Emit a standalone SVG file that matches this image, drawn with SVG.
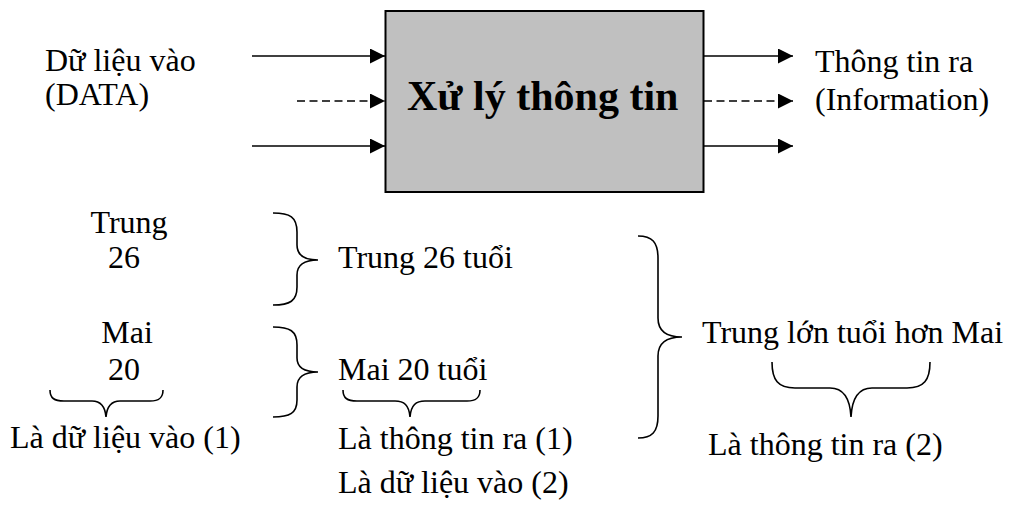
<svg xmlns="http://www.w3.org/2000/svg" width="1010" height="514" viewBox="0 0 1010 514">
<defs>
<style>
.t{font-family:"Liberation Serif","Times New Roman",serif;font-size:32px;fill:#000}
.tb{font-family:"Liberation Serif","Times New Roman",serif;font-size:42px;font-weight:bold;fill:#000}
.ln{stroke:#000;stroke-width:1.6;fill:none}
.dash{stroke-dasharray:8 4.5}
.br{stroke:#000;stroke-width:1.6;fill:none}
</style>
<marker id="ah" markerUnits="userSpaceOnUse" markerWidth="16" markerHeight="16" refX="15" refY="7.5" orient="auto">
<path d="M0,0 L15,7.5 L0,15 z" fill="#000"/>
</marker>
</defs>
<rect width="1010" height="514" fill="#fff"/>

<g id="process">
<rect x="385.5" y="11" width="318" height="181" fill="#c0c0c0" stroke="#000" stroke-width="2"/>
<text class="tb" x="407" y="110">Xử lý thông tin</text>
</g>

<g id="input-label">
<text class="t" x="45" y="71">Dữ liệu vào</text>
<text class="t" x="45" y="105">(DATA)</text>
</g>

<g id="output-label">
<text class="t" x="815" y="72">Thông tin ra</text>
<text class="t" x="815" y="110">(Information)</text>
</g>

<g id="connectors">
<line class="ln" x1="252" y1="56" x2="385" y2="56" marker-end="url(#ah)"/>
<line class="ln dash" x1="297" y1="101" x2="385" y2="101" marker-end="url(#ah)"/>
<line class="ln" x1="252" y1="146" x2="385" y2="146" marker-end="url(#ah)"/>
<line class="ln" x1="704" y1="56" x2="793" y2="56" marker-end="url(#ah)"/>
<line class="ln dash" x1="704" y1="101" x2="793" y2="101" marker-end="url(#ah)"/>
<line class="ln" x1="704" y1="146" x2="793" y2="146" marker-end="url(#ah)"/>
</g>

<g id="data1">
<text class="t" x="129" y="233" text-anchor="middle">Trung</text>
<text class="t" x="124" y="268" text-anchor="middle">26</text>
<text class="t" x="127" y="343" text-anchor="middle">Mai</text>
<text class="t" x="124" y="380" text-anchor="middle">20</text>
<path class="br" d="M50,390 C50,398 54,401 64,401 L92,401 C100,401 105,405 106,417 C107,405 112,401 120,401 L150,401 C159,401 163,398 163,390"/>
<text class="t" x="10" y="448">Là dữ liệu vào (1)</text>
</g>

<g id="info1">
<path class="br" d="M273,213 C290,213 297,217 297,232 L297,245 C297,255 304,260 318,260 C304,260 297,265 297,275 L297,287 C297,301 290,305 273,305"/>
<text class="t" x="338" y="268">Trung 26 tuổi</text>
<path class="br" d="M273,327 C290,327 297,331 297,345 L297,358 C297,368 304,372 318,372 C304,372 297,377 297,387 L297,400 C297,413 290,417 273,417"/>
<text class="t" x="338" y="380">Mai 20 tuổi</text>
<path class="br" d="M343,390 C343,398 347,401 357,401 L395,401 C404,401 409,405 410,417 C411,405 416,401 425,401 L467,401 C476,401 480,398 480,390"/>
<text class="t" x="338" y="449">Là thông tin ra (1)</text>
<text class="t" x="338" y="493">Là dữ liệu vào (2)</text>
</g>

<g id="info2">
<path class="br" d="M638,236 C652,236 658,242 658,258 L658,318 C658,330 666,337 682,337 C666,337 658,344 658,356 L658,416 C658,432 652,438 638,438"/>
<text class="t" x="702" y="343">Trung lớn tuổi hơn Mai</text>
<path class="br" d="M772,362 C772,380 778,388 795,388 L830,388 C843,388 850,398 851,417 C852,398 859,388 872,388 L907,388 C924,388 930,380 930,362"/>
<text class="t" x="708" y="455">Là thông tin ra (2)</text>
</g>
</svg>
